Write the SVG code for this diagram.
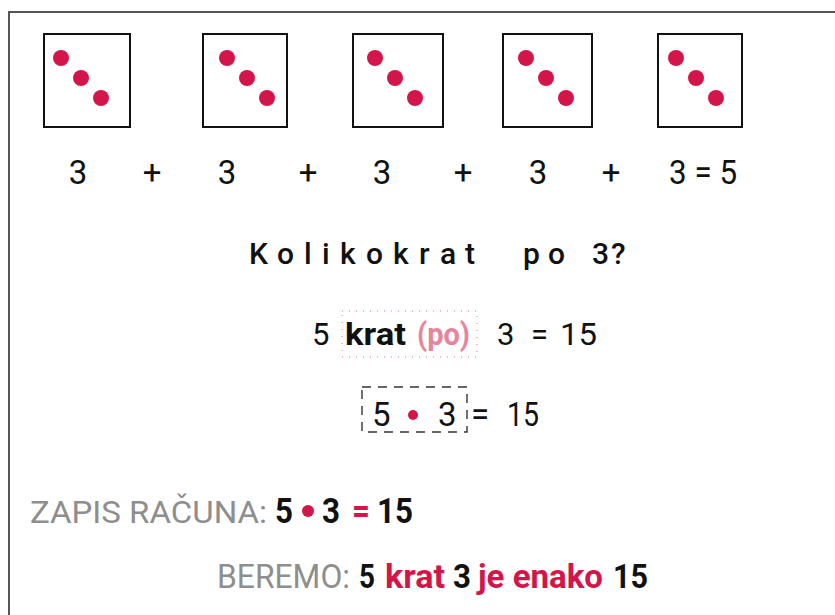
<svg xmlns="http://www.w3.org/2000/svg" width="835" height="615" viewBox="0 0 835 615">
  <defs>
    <style>
      .frame { stroke: #555; stroke-width: 2; fill: none; }
      .die { fill: #fff; stroke: #111; stroke-width: 2; }
      .pip { fill: #d4154a; }
      .t { font-family: Roboto, "Liberation Sans", sans-serif; fill: #111; }
      .num { font-size: 33px; text-anchor: middle; }
      .b { font-weight: 700; }
      .red { fill: #d4154a; }
      .pink { fill: #e8849c; }
      .grey { fill: #8e8e8e; }
    </style>
    <g id="pips">
      <circle class="pip" cx="0" cy="0" r="8"/>
      <circle class="pip" cx="20" cy="20" r="8"/>
      <circle class="pip" cx="40" cy="40" r="8"/>
    </g>
  </defs>
  <rect width="835" height="615" fill="#fff"/>
  <g id="frame">
    <line class="frame" x1="8" y1="12" x2="835" y2="12"/>
    <line class="frame" x1="9" y1="12" x2="9" y2="615"/>
  </g>
  <g id="die1"><rect class="die" x="44" y="34" width="86" height="93"/><use href="#pips" x="61" y="58"/></g>
  <g id="die2"><rect class="die" x="203" y="34" width="84" height="93"/><use href="#pips" x="227" y="58"/></g>
  <g id="die3"><rect class="die" x="353" y="34" width="90" height="93"/><use href="#pips" x="375" y="58"/></g>
  <g id="die4"><rect class="die" x="503" y="34" width="89" height="93"/><use href="#pips" x="526" y="58"/></g>
  <g id="die5"><rect class="die" x="658" y="34" width="84" height="93"/><use href="#pips" x="676" y="58"/></g>

  <g id="sum">
    <text class="t num" x="78" y="184">3</text>
    <text class="t num" x="152" y="184">+</text>
    <text class="t num" x="227" y="184">3</text>
    <text class="t num" x="308" y="184">+</text>
    <text class="t num" x="382" y="184">3</text>
    <text class="t num" x="463" y="184">+</text>
    <text class="t num" x="538" y="184">3</text>
    <text class="t num" x="611" y="184">+</text>
    <text class="t" font-size="33" x="669" y="184" textLength="68" lengthAdjust="spacingAndGlyphs">3 = 5</text>
  </g>

  <g id="question">
    <text class="t" font-size="30" font-weight="500" y="264" x="249 277 304 322 340 366 393 419 440 465 480 523 548 564 592 611">Kolikokrat po 3?</text>
  </g>

  <g id="line-krat">
    <rect x="342" y="311" width="135" height="46" fill="none" stroke="#eea3b5" stroke-width="1.5" stroke-dasharray="1 6"/>
    <text class="t" font-size="31" x="312" y="345">5</text>
    <text class="t b" font-size="31" x="345" y="345" textLength="61" lengthAdjust="spacingAndGlyphs">krat</text>
    <text class="t b pink" font-size="31" x="417" y="345" textLength="53" lengthAdjust="spacingAndGlyphs">(po)</text>
    <text class="t" font-size="31" x="497" y="345">3</text>
    <text class="t" font-size="31" x="531" y="345">=</text>
    <text class="t" font-size="31" x="560" y="345" textLength="37" lengthAdjust="spacingAndGlyphs">15</text>
  </g>

  <g id="line-dot">
    <rect x="362" y="387" width="105" height="45" fill="none" stroke="#333" stroke-width="1.4" stroke-dasharray="9 7"/>
    <text class="t" font-size="33" x="372" y="426">5</text>
    <circle class="pip" cx="413" cy="415" r="5"/>
    <text class="t" font-size="33" x="438" y="426">3</text>
    <text class="t" font-size="33" x="471" y="426">=</text>
    <text class="t" font-size="33" x="507" y="426" textLength="32" lengthAdjust="spacingAndGlyphs">15</text>
  </g>

  <g id="zapis">
    <text class="t grey" x="30" y="523" textLength="237" lengthAdjust="spacingAndGlyphs" style="font-size:32px">ZAPIS RAČUNA:</text>
    <text class="t b" font-size="35" x="275" y="523" textLength="18" lengthAdjust="spacingAndGlyphs">5</text>
    <circle class="pip" cx="308" cy="511" r="6"/>
    <text class="t b" font-size="35" x="322" y="523" textLength="18" lengthAdjust="spacingAndGlyphs">3</text>
    <text class="t b red" font-size="35" x="352" y="523" textLength="18" lengthAdjust="spacingAndGlyphs">=</text>
    <text class="t b" font-size="35" x="377" y="523" textLength="36" lengthAdjust="spacingAndGlyphs">15</text>
  </g>

  <g id="beremo">
    <text class="t grey" font-size="33" x="217" y="588" textLength="133" lengthAdjust="spacingAndGlyphs">BEREMO:</text>
    <text class="t b" font-size="33" x="359" y="588" textLength="16" lengthAdjust="spacingAndGlyphs">5</text>
    <text class="t b red" font-size="33" x="385" y="588" textLength="60" lengthAdjust="spacingAndGlyphs">krat</text>
    <text class="t b" font-size="33" x="453" y="588" textLength="18" lengthAdjust="spacingAndGlyphs">3</text>
    <text class="t b red" font-size="33" x="478" y="588" textLength="125" lengthAdjust="spacingAndGlyphs">je enako</text>
    <text class="t b" font-size="33" x="613" y="588" textLength="35" lengthAdjust="spacingAndGlyphs">15</text>
  </g>
</svg>
